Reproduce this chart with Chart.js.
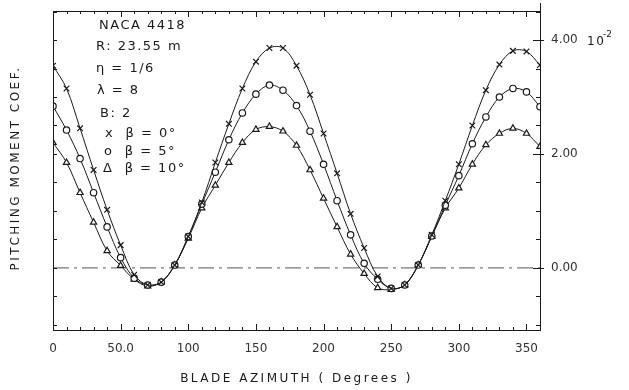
<!DOCTYPE html>
<html>
<head>
<meta charset="utf-8">
<script src="https://cdn.jsdelivr.net/npm/chart.js@4.4.0/dist/chart.umd.min.js"></script>
<style>
  html, body { margin: 0; padding: 0; background: #fff; }
  #wrap { position: relative; width: 629px; height: 390px; }
</style>
</head>
<body>
<div id="wrap"><canvas id="moment" width="629" height="390"></canvas></div>
<script>
// blade azimuth (deg) and pitching moment coef (x 10^-2)
const azimuth = [0,10,20,30,40,50,60,70,80,90,100,110,120,130,140,150,160,170,180,
                 190,200,210,220,230,240,250,260,270,280,290,300,310,320,330,340,350,360];
const beta0  = [3.55,3.15,2.45,1.72,1.02,0.40,-0.12,-0.30,-0.25,0.05,0.55,1.15,1.85,2.53,3.15,3.62,3.86,3.86,3.55,
                3.04,2.36,1.66,0.95,0.35,-0.15,-0.36,-0.30,0.05,0.58,1.18,1.82,2.50,3.12,3.57,3.81,3.80,3.56];
const beta5  = [2.84,2.42,1.92,1.32,0.72,0.18,-0.18,-0.30,-0.25,0.05,0.55,1.12,1.68,2.25,2.72,3.05,3.21,3.12,2.85,
                2.40,1.82,1.18,0.58,0.08,-0.20,-0.36,-0.30,0.05,0.56,1.10,1.62,2.18,2.65,3.00,3.15,3.09,2.83];
const beta10 = [2.20,1.85,1.32,0.80,0.30,0.04,-0.20,-0.32,-0.25,0.05,0.52,1.05,1.45,1.85,2.20,2.43,2.48,2.40,2.15,
                1.72,1.22,0.72,0.24,-0.10,-0.35,-0.38,-0.30,0.05,0.55,1.05,1.40,1.82,2.16,2.36,2.45,2.36,2.13];

const xTicks = [0,50,100,150,200,250,300,350];
const xTickLabels = ['0','50.0','100','150','200','250','300','350'];
const yTicks = [0,2,4];
const yTickLabels = ['0.00','2.00','4.00'];
const zeroLine = [0,0];
const zeroLineX = [0,360];

const notes = ['NACA 4418','R: 23.55 m','\u03B7 = 1/6','\u03BB = 8','B: 2','x  \u03B2 = 0\u00B0','o  \u03B2 = 5\u00B0','\u0394  \u03B2 = 10\u00B0'];

const ink = '#1a1a1a';
const font = '"DejaVu Sans", sans-serif';

const toPts = (ys) => azimuth.map((a, i) => ({ x: a, y: ys[i] }));

const decor = {
  id: 'decor',
  afterDraw(chart) {
    const { ctx, chartArea: a, scales } = chart;
    const x = scales.x, y = scales.y;
    ctx.save();
    ctx.strokeStyle = ink;
    ctx.lineWidth = 1;
    ctx.strokeRect(a.left + 0.5, a.top + 0.5, a.right - a.left, a.bottom - a.top);
    ctx.beginPath();
    for (let v = 0; v <= 360; v += 10) {
      const px = Math.round(x.getPixelForValue(v)) + 0.5;
      const len = v % 50 === 0 ? 6 : 3;
      ctx.moveTo(px, a.bottom); ctx.lineTo(px, a.bottom - len);
      ctx.moveTo(px, a.top); ctx.lineTo(px, a.top + len);
    }
    for (let v = -1; v <= 4.5; v += 0.5) {
      const py = Math.round(y.getPixelForValue(v)) + 0.5;
      const major = Math.abs(v % 2) < 1e-6;
      ctx.moveTo(a.left, py); ctx.lineTo(a.left + 4, py);
      ctx.moveTo(a.right, py); ctx.lineTo(a.right - (major ? 7 : 4), py);
      if (major) { ctx.moveTo(a.right, py); ctx.lineTo(a.right + 4, py); }
    }
    ctx.moveTo(a.right + 0.5, a.top); ctx.lineTo(a.right + 0.5, a.top - 8);
    ctx.stroke();

    ctx.fillStyle = ink;
    ctx.font = '13px ' + font;
    ctx.letterSpacing = '1.5px';
    ctx.textBaseline = 'middle';
    const noteY = [26, 47, 69, 91, 114, 134, 152, 169];
    const noteX = [99, 96, 96, 97, 100, 105, 104, 103];
    notes.forEach((t, i) => ctx.fillText(t, noteX[i], noteY[i]));

    ctx.font = '12px ' + font;
    ctx.fillText('10', 587, 42);
    ctx.font = '9px ' + font;
    ctx.letterSpacing = '0px';
    ctx.fillText('-2', 603, 35);

    ctx.font = '12px ' + font;
    ctx.letterSpacing = '2.5px';
    ctx.textAlign = 'center';
    ctx.fillText('BLADE AZIMUTH ( Degrees )', (a.left + a.right) / 2, 379);
    ctx.translate(16, 168);
    ctx.rotate(-Math.PI / 2);
    ctx.fillText('PITCHING MOMENT COEF.', 0, 0);
    ctx.restore();
  }
};

const marker = (style, r, fill) => ({
  pointStyle: style, pointRadius: r, pointBorderWidth: 1.2,
  pointBackgroundColor: fill, pointBorderColor: ink
});

new Chart(document.getElementById('moment').getContext('2d'), {
  type: 'line',
  data: {
    datasets: [
      Object.assign({ label: 'beta 0', data: toPts(beta0), borderColor: ink, borderWidth: 1, tension: 0.35 }, marker('crossRot', 4, ink)),
      Object.assign({ label: 'beta 5', data: toPts(beta5), borderColor: ink, borderWidth: 1, tension: 0.35 }, marker('circle', 3.2, '#fff')),
      Object.assign({ label: 'beta 10', data: toPts(beta10), borderColor: ink, borderWidth: 1, tension: 0.35 }, marker('triangle', 3.6, '#fff')),
      { label: 'zero', data: zeroLineX.map((v, i) => ({ x: v, y: zeroLine[i] })), borderColor: '#555', borderWidth: 1,
        borderDash: [16, 5, 3, 5], pointRadius: 0 }
    ]
  },
  options: {
    responsive: false,
    animation: false,
    devicePixelRatio: 1,
    layout: { padding: { top: 11, left: 0, right: 0, bottom: 0 } },
    plugins: { legend: { display: false }, tooltip: { enabled: false } },
    scales: {
      x: {
        type: 'linear', min: 0, max: 360,
        afterBuildTicks: (s) => { s.ticks = xTicks.map(v => ({ value: v })); },
        afterFit: (s) => { s.height = 60; },
        ticks: { autoSkip: false, maxRotation: 0, padding: 4, color: '#333',
                 font: { family: font, size: 12 },
                 callback: (v) => xTickLabels[xTicks.indexOf(v)] },
        grid: { display: false }, border: { display: false }
      },
      y: {
        position: 'left', min: -1.09, max: 4.51,
        afterFit: (s) => { s.width = 53; },
        ticks: { display: false },
        grid: { display: false }, border: { display: false }
      },
      y2: {
        position: 'right', min: -1.09, max: 4.51,
        afterBuildTicks: (s) => { s.ticks = yTicks.map(v => ({ value: v })); },
        afterFit: (s) => { s.width = 89; },
        ticks: { padding: 3, color: '#333', font: { family: font, size: 12 },
                 callback: (v) => yTickLabels[yTicks.indexOf(v)] },
        grid: { display: false }, border: { display: false }
      }
    }
  },
  plugins: [decor]
});
</script>
</body>
</html>
